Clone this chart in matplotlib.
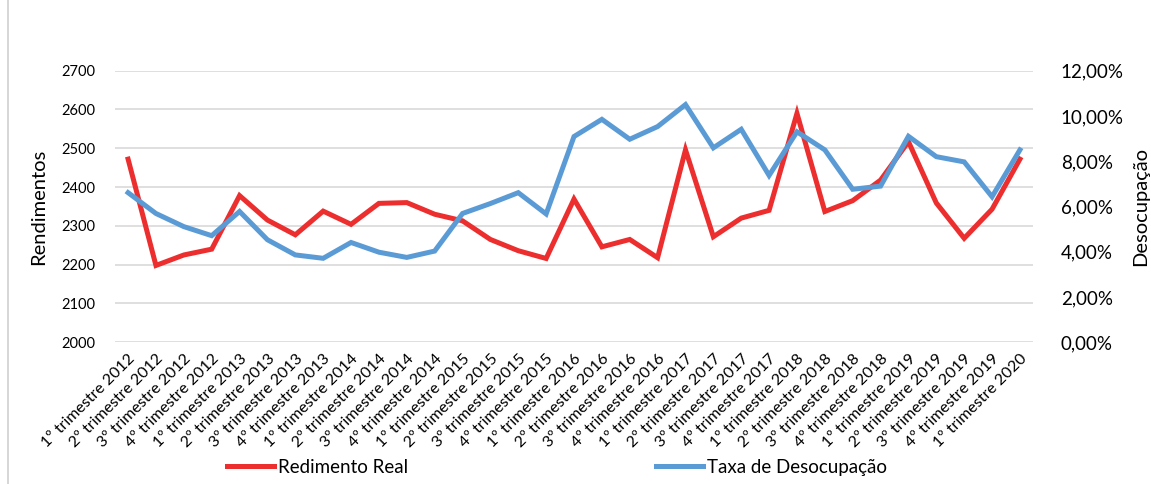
import matplotlib.pyplot as plt
import matplotlib.ticker as mticker
from matplotlib.lines import Line2D
from matplotlib.patches import Rectangle

plt.rcParams['font.family'] = ['Lato', 'DejaVu Sans']

anos = [2012] * 4 + [2013] * 4 + [2014] * 4 + [2015] * 4 + [2016] * 4 + \
       [2017] * 4 + [2018] * 4 + [2019] * 4 + [2020]
trims = [1, 2, 3, 4] * 8 + [1]
labels = ['%dº trimestre %d' % (t, a) for t, a in zip(trims, anos)]

rendimento = [2472, 2198, 2225, 2240, 2378, 2315, 2277, 2338, 2304, 2358,
              2360, 2330, 2313, 2265, 2236, 2216, 2369, 2246, 2265, 2218,
              2496, 2272, 2320, 2340, 2590, 2337, 2365, 2418, 2517, 2359,
              2268, 2343, 2472]

desocupacao = [6.61, 5.69, 5.11, 4.71, 5.78, 4.53, 3.86, 3.71, 4.41, 3.98,
               3.75, 4.03, 5.69, 6.13, 6.61, 5.67, 9.09, 9.85, 8.97, 9.53,
               10.5, 8.59, 9.41, 7.37, 9.30, 8.50, 6.76, 6.90, 9.10, 8.20,
               7.97, 6.43, 8.50]

red = '#EC2E2E'
blue = '#5B9BD5'

fig = plt.figure(figsize=(11.51, 4.84), dpi=100)
fig.patches.append(Rectangle((8 / 1151, -0.01), 1.1, 1.1, transform=fig.transFigure,
                             fill=False, edgecolor='#d0d0d0', linewidth=1.2))
ax = fig.add_axes([0.0999, 0.2928, 0.7976, 0.5612])
x = list(range(len(labels)))

ax.plot(x, rendimento, color=red, linewidth=3.6, solid_joinstyle='miter')
ax.set_ylim(2000, 2700)
ax.set_yticks(range(2000, 2701, 100))
ax.set_xlim(-0.47, len(labels) - 1 + 0.47)
ax.grid(axis='y', color='#d9d9d9', linewidth=1.2)
ax.set_axisbelow(True)
for s in ax.spines.values():
    s.set_visible(False)
ax.tick_params(axis='y', length=0, labelsize=10.5, pad=14)
ax.tick_params(axis='x', length=0, pad=7)
ax.set_xticks(x)
ax.set_xticklabels(labels, rotation=45, ha='right', va='top',
                   rotation_mode='anchor', fontsize=11.5)
ax.set_ylabel('Rendimentos', fontsize=14.5, labelpad=10)

ax2 = ax.twinx()
ax2.plot(x, [v / 100 for v in desocupacao], color=blue, linewidth=3.6,
         solid_joinstyle='miter')
ax2.set_ylim(0, 0.12)
ax2.set_yticks([0, 0.02, 0.04, 0.06, 0.08, 0.10, 0.12])
ax2.yaxis.set_major_formatter(
    mticker.FuncFormatter(lambda v, p: ('%.2f%%' % (v * 100)).replace('.', ',')))
for s in ax2.spines.values():
    s.set_visible(False)
ax2.tick_params(axis='y', length=0, labelsize=13.5, pad=20)
ax2.set_ylabel('Desocupação', fontsize=14.5, labelpad=6)

handles = [Line2D([], [], color=red, linewidth=3.6),
           Line2D([], [], color=blue, linewidth=3.6)]
fig.legend(handles, ['Redimento Real', 'Taxa de Desocupação'], ncol=2,
           loc='center', bbox_to_anchor=(0.484, 0.035), frameon=False,
           fontsize=13.5, handlelength=2.5, handletextpad=0.25,
           columnspacing=13.2)

plt.savefig('out.png', dpi=100)
